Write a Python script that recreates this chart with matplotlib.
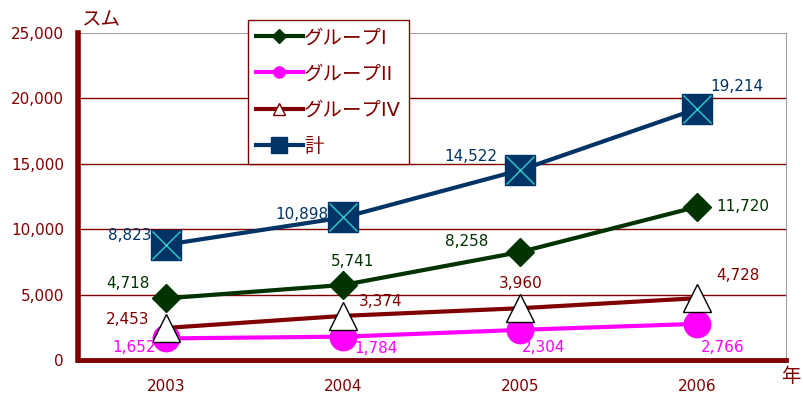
import matplotlib
matplotlib.use('Agg')

import matplotlib.pyplot as plt
from matplotlib.lines import Line2D

plt.rcParams['font.family'] = ['DejaVu Sans', 'Noto Sans CJK JP']

years = ['2003', '2004', '2005', '2006']
group1 = [4718, 5741, 8258, 11720]
group2 = [1652, 1784, 2304, 2766]
group4 = [2453, 3374, 3960, 4728]
total = [8823, 10898, 14522, 19214]

# label offsets in pixels (x, y) for each point
off_total = [(-15, 9, 'right'), (-15, 3, 'right'), (-23, 14, 'right'), (39, 22, 'center')]
off_g1 = [(-39, 15, 'center'), (9, 23, 'center'), (-54, 10, 'center'), (45, 0, 'center')]
off_g4 = [(-39, 8, 'center'), (37, 14, 'center'), (0, 25, 'center'), (40, 23, 'center')]
off_g2 = [(-32, -9, 'center'), (33, -12, 'center'), (23, -18, 'center'), (25, -24, 'center')]

DARKRED = '#800000'
GREEN = '#003300'
PINK = '#ff00ff'
NAVY = '#003366'

fig = plt.figure(figsize=(8.04, 3.97), dpi=100)
ax = fig.add_axes([78/804, 37/397, 708/804, 327/397])
x = list(range(len(years)))

ax.plot(x, group2, color=PINK, lw=3, marker='o', ms=19, mfc=PINK, mec=PINK, zorder=3)
ax.plot(x, group4, color=DARKRED, lw=3, marker='^', ms=20, mfc='white', mec='black', mew=1, zorder=4)
ax.plot(x, group1, color=GREEN, lw=3, marker='D', ms=14, mfc=GREEN, mec=GREEN, zorder=5)
ax.plot(x, total, color=NAVY, lw=3, marker='s', ms=22, mfc=NAVY, mec=NAVY, zorder=6)
ax.plot(x, total, ls='none', marker='x', ms=20, mec='#33cccc', mew=1, zorder=7)

def labels(vals, offs, color):
    for i, v in enumerate(vals):
        dx, dy, ha = offs[i]
        ax.annotate(f'{v:,}', (i, v), xytext=(dx, dy), textcoords='offset pixels',
                    ha=ha, va='center', color=color, fontsize=11, zorder=8)

labels(total, off_total, NAVY)
labels(group1, off_g1, GREEN)
labels(group4, off_g4, DARKRED)
labels(group2, off_g2, PINK)

ax.set_xlim(-0.5, 3.5)
ax.set_ylim(0, 25000)
ax.set_yticks(range(0, 25001, 5000))
ax.set_yticklabels([f'{v:,}' for v in range(0, 25001, 5000)])
ax.set_xticks(x)
ax.set_xticklabels(years)
ax.tick_params(length=0, colors=DARKRED, labelsize=11)
ax.tick_params(axis='x', pad=14)
ax.tick_params(axis='y', pad=10)
for y in range(5000, 25000, 5000):
    ax.axhline(y, color=DARKRED, lw=1, zorder=1)
ax.axhline(25000, color='#a0a0a0', lw=1.5, zorder=1)

ax.spines['left'].set_color(DARKRED)
ax.spines['left'].set_linewidth(4)
ax.spines['bottom'].set_color(DARKRED)
ax.spines['bottom'].set_linewidth(3.5)
ax.spines['right'].set_color('#a0a0a0')
ax.spines['top'].set_visible(False)

fig.text(81/804, 1 - 20/397, 'スム', color=DARKRED, fontsize=14, va='center')
fig.text(781/804, 1 - 376/397, '年', color=DARKRED, fontsize=14, va='center')

handles = [
    Line2D([], [], color=GREEN, lw=3, marker='D', ms=7, mfc=GREEN, mec=GREEN),
    Line2D([], [], color=PINK, lw=3, marker='o', ms=8, mfc=PINK, mec=PINK),
    Line2D([], [], color=DARKRED, lw=3, marker='^', ms=9, mfc='white', mec=DARKRED),
    Line2D([], [], color=NAVY, lw=3, marker='s', ms=11, mfc=NAVY, mec=NAVY),
]
names = ['グループI', 'グループII', 'グループIV', '計']
leg = fig.legend(handles, names, loc='upper left', bbox_to_anchor=(248/804, 1 - 20/397),
                 fontsize=14, labelcolor=DARKRED, frameon=True, fancybox=False,
                 edgecolor=DARKRED, framealpha=1, labelspacing=0.88, handlelength=2.4,
                 handletextpad=0.05, borderpad=0.42, borderaxespad=0)
leg.get_frame().set_linewidth(1)

plt.savefig('out.png', dpi=100)
